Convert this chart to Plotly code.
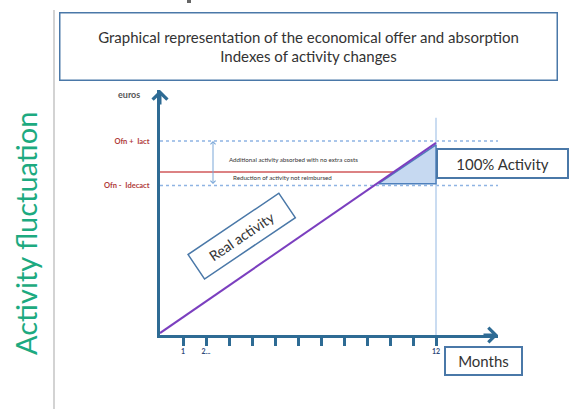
import plotly.graph_objects as go

# ---------------- data ----------------
months_line = [0, 12]
real_activity = [1, 99]
offer_upper = 100      # Ofn + Iact
offer_nominal = 84     # nominal offer (red line)
offer_lower = 77       # Ofn - Idecact
absorbed_x = [9.5, 12, 12, 9.5]
absorbed_y = [78, 98, 78, 78]
tick_months = list(range(1, 13))
tick_labels = ["<b>1</b>", "<b>2...</b>", "", "", "", "", "", "", "", "", "", "<b>12</b>"]
ytick_vals = [offer_upper, offer_lower]
ytick_labels = ["<b>Ofn +  Iact</b>", "<b>Ofn -  Idecact</b>"]

# ---------------- geometry ----------------
W, H = 577, 409
L, R, T, B = 160, 498, 90, 335          # plot area in pixels
PX_PER_MONTH = 23.0
PX_PER_UNIT = 1.94
x_max = (R - L) / PX_PER_MONTH
y_max = (B - T) / PX_PER_UNIT


def px(xp):
    return (xp - L) / (R - L)


def py(yp):
    return (B - yp) / (B - T)


FONT = "Lato"
AXIS_COL = "#2e6b94"

fig = go.Figure()

fig.add_trace(go.Scatter(
    x=absorbed_x, y=absorbed_y, mode="lines", fill="toself",
    fillcolor="#c6d9f1", line=dict(color="#4f81bd", width=1.5),
    hoverinfo="skip", showlegend=False, cliponaxis=False))

fig.add_trace(go.Scatter(
    x=months_line, y=real_activity, mode="lines",
    line=dict(color="#7b3fbf", width=2),
    hoverinfo="skip", showlegend=False, cliponaxis=False))

shapes = [
    dict(type="line", xref="x", yref="y", x0=0, x1=x_max, y0=offer_upper, y1=offer_upper,
         line=dict(color="#8fb4e3", width=1.5, dash="dot"), layer="below"),
    dict(type="line", xref="x", yref="y", x0=0, x1=x_max, y0=offer_lower, y1=offer_lower,
         line=dict(color="#8fb4e3", width=1.5, dash="dot"), layer="below"),
    dict(type="line", xref="x", yref="y", x0=0, x1=12, y0=offer_nominal, y1=offer_nominal,
         line=dict(color="#d0585a", width=1.5), layer="below"),
    dict(type="line", xref="x", yref="y", x0=12, x1=12, y0=0, y1=112,
         line=dict(color="#b9d1ec", width=1.5), layer="below"),
    # slide frame line
    dict(type="line", xref="paper", yref="paper", x0=px(54), x1=px(54), y0=py(10), y1=py(409),
         line=dict(color="#c4c4c4", width=1.5)),
    dict(type="rect", xref="paper", yref="paper", x0=px(187), x1=px(191), y0=py(0), y1=py(3),
         line=dict(width=0), fillcolor="#666666"),
]

annotations = [
    # title box
    dict(xref="paper", yref="paper", x=px(308), y=py(47), showarrow=False,
         text="Graphical representation of the economical offer and absorption<br>Indexes of activity changes",
         font=dict(family=FONT, size=15, color="#333333"), align="center",
         width=496, height=66, bordercolor="#4a78a8", borderwidth=1.5, borderpad=0,
         bgcolor="white", xanchor="center", yanchor="middle"),
    # vertical green label
    dict(xref="paper", yref="paper", x=px(25), y=py(234), showarrow=False, textangle=-90,
         text="Activity fluctuation", font=dict(family=FONT, size=29, color="#1daa80"),
         xanchor="center", yanchor="middle"),
    # euros label
    dict(xref="paper", yref="paper", x=px(129), y=py(94), showarrow=False,
         text="<b>euros</b>", font=dict(family=FONT, size=9, color="#555555"),
         xanchor="center", yanchor="middle"),
    # axis arrowheads
    dict(xref="paper", yref="paper", x=1, y=0, ax=-16, ay=0, axref="pixel", ayref="pixel",
         showarrow=True, arrowhead=4, arrowsize=0.95, arrowwidth=3, arrowcolor=AXIS_COL, text=""),
    dict(xref="paper", yref="paper", x=0, y=1, ax=0, ay=16, axref="pixel", ayref="pixel",
         showarrow=True, arrowhead=4, arrowsize=0.95, arrowwidth=3, arrowcolor=AXIS_COL, text=""),
    # double arrow between offer bounds
    dict(xref="x", yref="y", x=(213 - L) / PX_PER_MONTH, y=offer_upper,
         ax=(213 - L) / PX_PER_MONTH, ay=offer_lower, axref="x", ayref="y",
         showarrow=True, arrowside="end+start", arrowhead=4, arrowsize=1,
         arrowwidth=1, arrowcolor="#7aa7d8", text=""),
    # small texts
    dict(xref="paper", yref="paper", x=px(293), y=py(159), showarrow=False,
         text="Additional activity absorbed with no extra costs",
         font=dict(family=FONT, size=6.2, color="#333333"), xanchor="center", yanchor="middle"),
    dict(xref="paper", yref="paper", x=px(282), y=py(177), showarrow=False,
         text="Reduction of activity not reimbursed",
         font=dict(family=FONT, size=6.2, color="#333333"), xanchor="center", yanchor="middle"),
    # 100% activity box
    dict(xref="paper", yref="paper", x=px(502.5), y=py(163.5), showarrow=False,
         text="100% Activity", font=dict(family=FONT, size=15, color="#333333"),
         width=129, height=27, bordercolor="#4a78a8", borderwidth=2, borderpad=0,
         bgcolor="white", xanchor="center", yanchor="middle"),
    # Months box
    dict(xref="paper", yref="paper", x=px(483.5), y=py(361), showarrow=False,
         text="Months", font=dict(family=FONT, size=15, color="#333333"),
         width=75, height=26, bordercolor="#4a78a8", borderwidth=2, borderpad=0,
         bgcolor="white", xanchor="center", yanchor="middle"),
    # Real activity rotated box
    dict(xref="paper", yref="paper", x=px(241), y=py(236), showarrow=False, textangle=-34,
         text="Real activity", font=dict(family=FONT, size=14, color="#333333"),
         width=108, height=28, bordercolor="#4a78a8", borderwidth=1.5, borderpad=0,
         bgcolor="white", xanchor="center", yanchor="middle"),
]

fig.update_layout(
    width=W, height=H,
    margin=dict(l=L, r=W - R, t=T, b=H - B, pad=0),
    paper_bgcolor="white", plot_bgcolor="white",
    showlegend=False,
    shapes=shapes, annotations=annotations,
    xaxis=dict(range=[0, x_max], showgrid=False, zeroline=False, showline=True,
               linecolor=AXIS_COL, linewidth=3, ticks="outside", ticklen=8, tickwidth=3,
               tickcolor=AXIS_COL, tickvals=tick_months, ticktext=tick_labels,
               tickfont=dict(family=FONT, size=7, color="#2e4a7a"), fixedrange=True),
    yaxis=dict(range=[0, y_max], showgrid=False, zeroline=False, showline=True,
               linecolor=AXIS_COL, linewidth=3, ticks="", tickvals=ytick_vals,
               ticktext=ytick_labels, ticklabelstandoff=6,
               tickfont=dict(family=FONT, size=7.5, color="#b03a3a"), fixedrange=True),
)

fig.write_html("out.html", config={"displayModeBar": False},
               post_script="document.body.style.margin='0';document.body.style.padding='0';")
